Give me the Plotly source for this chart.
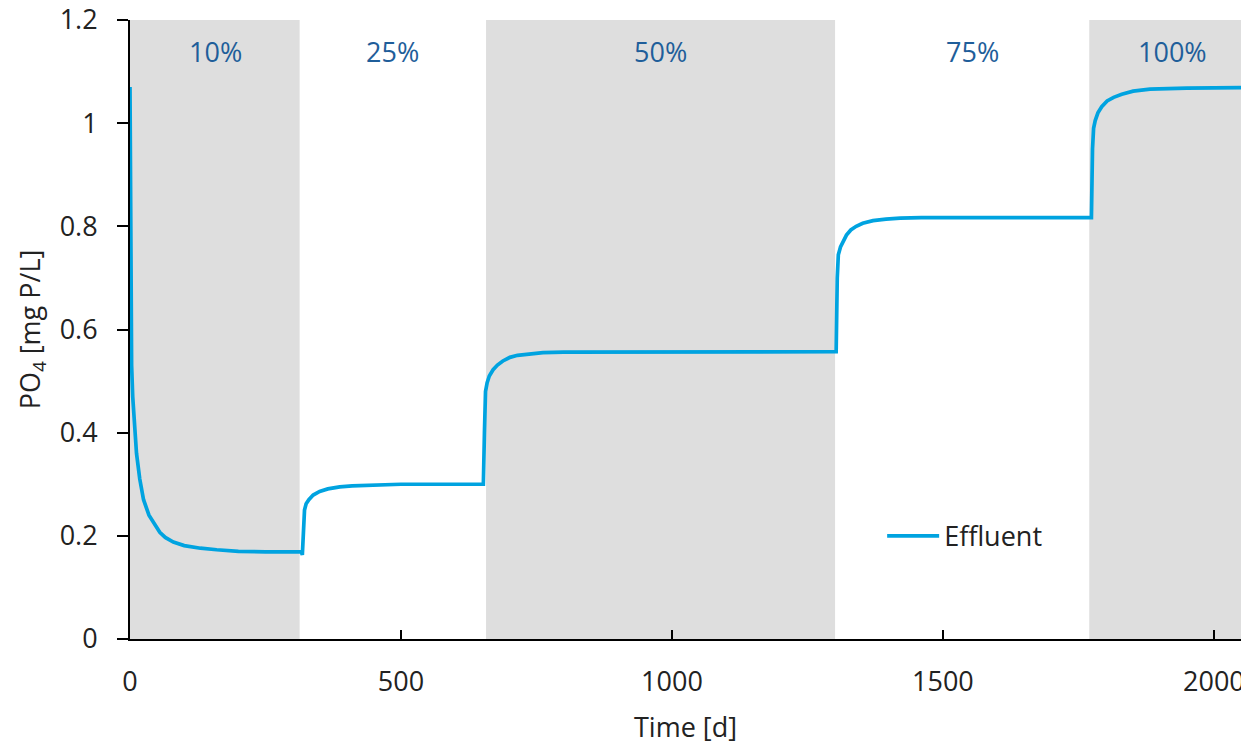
import plotly.graph_objects as go

# Time [d] and effluent PO4 [mg P/L]
time_d = [0, 1, 2, 3, 5, 8, 12, 18, 25, 35, 45, 55, 65, 80, 100, 130, 160, 200, 250, 316,
          318, 320, 322, 325, 330, 338, 350, 365, 387, 410, 430, 470, 500, 600, 652,
          654, 656, 659, 663, 670, 678, 688, 701, 715, 730, 762, 800, 850, 1000, 1303,
          1305, 1307, 1311, 1316, 1322, 1330, 1340, 1352, 1371, 1395, 1421, 1460, 1600, 1774,
          1776, 1778, 1781, 1786, 1793, 1803, 1815, 1830, 1851, 1882, 1950, 2050]
po4 = [1.07, 0.70, 0.58, 0.53, 0.47, 0.41, 0.36, 0.31, 0.27, 0.24, 0.222, 0.207, 0.197, 0.188, 0.181, 0.176, 0.173, 0.170, 0.169, 0.169,
       0.163, 0.20, 0.250, 0.262, 0.270, 0.279, 0.286, 0.291, 0.295, 0.297, 0.298, 0.299, 0.300, 0.300, 0.300,
       0.40, 0.48, 0.497, 0.510, 0.522, 0.531, 0.539, 0.546, 0.550, 0.552, 0.555, 0.556, 0.556, 0.557, 0.557,
       0.70, 0.745, 0.760, 0.772, 0.783, 0.793, 0.800, 0.806, 0.811, 0.814, 0.816, 0.817, 0.817, 0.817,
       0.95, 0.99, 1.005, 1.020, 1.032, 1.043, 1.050, 1.056, 1.062, 1.066, 1.068, 1.069]

# Phases (shaded / unshaded) and labels
phase_start = [0, 313, 657, 1301, 1770]
phase_end = [313, 657, 1301, 1770, 2050]
phase_shaded = [True, False, True, False, True]
phase_label = ["10%", "25%", "50%", "75%", "100%"]
label_x = [157, 484, 978, 1555, 1924]

FONT = "Open Sans"
FS = 27

fig = go.Figure()
fig.add_trace(go.Scatter(x=time_d, y=po4, mode="lines", name="Effluent",
                         line=dict(color="#00A3E0", width=3.7)))

for s, e, sh in zip(phase_start, phase_end, phase_shaded):
    if sh:
        fig.add_shape(type="rect", xref="x", yref="y", x0=s, x1=e, y0=0, y1=1.2,
                      fillcolor="#DEDEDE", line=dict(width=0), layer="below")

for lx, lab in zip(label_x, phase_label):
    fig.add_annotation(x=lx, y=1.138, xref="x", yref="y", text=lab, showarrow=False,
                       font=dict(family=FONT, size=FS, color="#1F5E9A"))

fig.update_layout(
    width=1241, height=745,
    margin=dict(l=130, r=0, t=20, b=106),
    paper_bgcolor="white", plot_bgcolor="white",
    font=dict(family=FONT, size=FS, color="#222222"),
    showlegend=True,
    legend=dict(x=0.677, y=0.166, xanchor="left", yanchor="middle", itemwidth=52,
                bgcolor="rgba(0,0,0,0)", font=dict(family=FONT, size=FS, color="#222222")),
    xaxis=dict(range=[0, 2050], tickvals=[0, 500, 1000, 1500, 2000], automargin=False,
               ticklabeloverflow="allow",
               showgrid=False, zeroline=False, showline=True, linecolor="black", linewidth=2,
               ticks="inside", ticklen=9, tickwidth=2, tickcolor="black",
               ticklabelstandoff=18,
               title=dict(text="Time [d]", standoff=20, font=dict(family=FONT, size=FS))),
    yaxis=dict(range=[0, 1.2], tickvals=[0, 0.2, 0.4, 0.6, 0.8, 1, 1.2], automargin=False,
               ticktext=["0", "0.2", "0.4", "0.6", "0.8", "1", "1.2"],
               showgrid=False, zeroline=False, showline=True, linecolor="black", linewidth=2,
               ticks="outside", ticklen=11, tickwidth=2, tickcolor="black",
               ticklabelstandoff=14,
               title=dict(text="PO<sub>4</sub> [mg P/L]", standoff=11, font=dict(family=FONT, size=FS))),
)

# remove the page's default body margin so the 1241x745 figure fills the window
fig.write_html("out.html",
               config={"displayModeBar": False},
               post_script="document.documentElement.style.overflow='hidden';"
                           "document.body.style.margin='0';document.body.style.overflow='hidden';")
